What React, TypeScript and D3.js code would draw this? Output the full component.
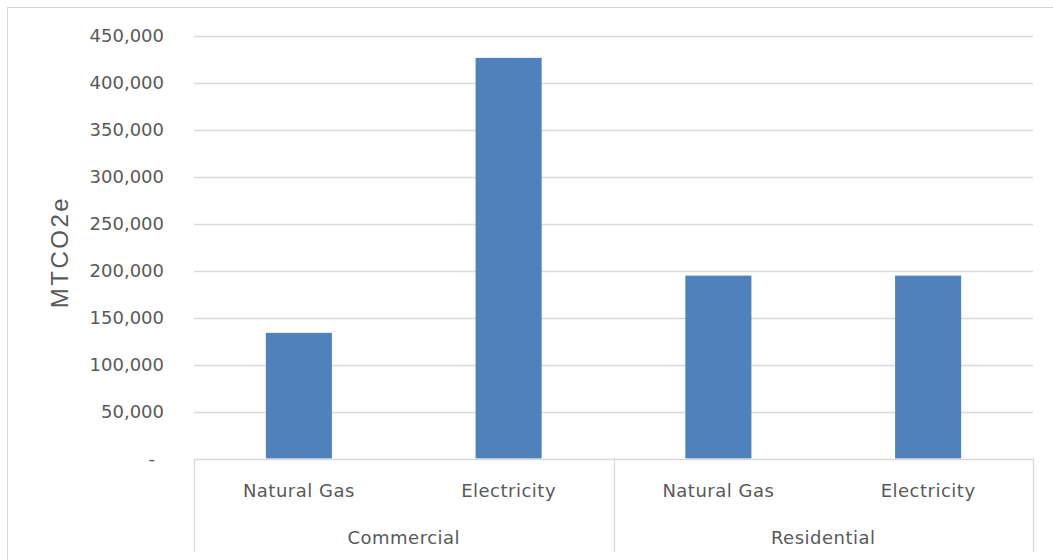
import React, { useEffect, useRef } from "react";
import * as d3 from "d3";

// chart data
const groups = ["Commercial", "Residential"];
const sources = ["Natural Gas", "Electricity"];
const values = [133800, 426700, 194800, 194800];
const yTicks = [0, 50000, 100000, 150000, 200000, 250000, 300000, 350000, 400000, 450000];
const yTitle = "MTCO2e";

const W = 1053;
const H = 560;

export default function App() {
  const ref = useRef<SVGSVGElement>(null);

  useEffect(() => {
    const svg = d3.select(ref.current);
    svg.selectAll("*").remove();

    const left = 194, right = 1033, top = 36, bottom = 458.5;
    const font = "'DejaVu Sans', sans-serif";
    const textColor = "#595959";
    const gridColor = "#d9d9d9";

    // outer frame
    svg.append("rect")
      .attr("x", 7.5).attr("y", 7.5)
      .attr("width", W + 10).attr("height", H + 10)
      .attr("fill", "white").attr("stroke", gridColor);

    const y = d3.scaleLinear().domain([0, 450000]).range([bottom, top]);

    const cats: { group: string; source: string; value: number }[] = [];
    groups.forEach((g, gi) => sources.forEach((s, si) => {
      cats.push({ group: g, source: s, value: values[gi * sources.length + si] });
    }));
    const x = d3.scaleBand<number>()
      .domain(cats.map((_, i) => i))
      .range([left, right])
      .paddingInner(0.685)
      .paddingOuter(0.685 / 2);

    // gridlines
    svg.append("g").selectAll("line")
      .data(yTicks.filter(t => t > 0))
      .enter().append("line")
      .attr("x1", left).attr("x2", right)
      .attr("y1", d => Math.round(y(d)) + 0.5).attr("y2", d => Math.round(y(d)) + 0.5)
      .attr("stroke", gridColor).attr("stroke-width", 1.3);

    // tick labels
    const fmt = d3.format(",");
    svg.append("g").selectAll("text")
      .data(yTicks)
      .enter().append("text")
      .attr("x", d => d === 0 ? 155 : 164)
      .attr("y", d => y(d))
      .attr("dy", "0.36em")
      .attr("text-anchor", "end")
      .attr("font-family", font).attr("font-size", 18)
      .attr("fill", textColor)
      .text(d => d === 0 ? "-" : fmt(d));

    // bars
    svg.append("g").selectAll("rect")
      .data(cats)
      .enter().append("rect")
      .attr("x", (_, i) => x(i)!)
      .attr("width", x.bandwidth())
      .attr("y", d => y(d.value))
      .attr("height", d => bottom - y(d.value))
      .attr("fill", "#4f81bd");

    // category axis
    const ax = svg.append("g");
    ax.append("line")
      .attr("x1", left).attr("x2", right)
      .attr("y1", Math.round(bottom) + 0.5).attr("y2", Math.round(bottom) + 0.5)
      .attr("stroke", gridColor).attr("stroke-width", 1.3);
    const step = (right - left) / cats.length;
    const divs = d3.range(groups.length + 1).map(i => left + i * step * sources.length);
    ax.selectAll("line.div")
      .data(divs)
      .enter().append("line")
      .attr("class", "div")
      .attr("x1", d => Math.round(d) + 0.5).attr("x2", d => Math.round(d) + 0.5)
      .attr("y1", bottom).attr("y2", 552)
      .attr("stroke", gridColor).attr("stroke-width", 1.3);

    ax.selectAll("text.inner")
      .data(cats)
      .enter().append("text")
      .attr("class", "inner")
      .attr("x", (_, i) => x(i)! + x.bandwidth() / 2)
      .attr("y", 497)
      .attr("text-anchor", "middle")
      .attr("font-family", font).attr("font-size", 18)
      .attr("letter-spacing", 0.5)
      .attr("fill", textColor)
      .text(d => d.source);

    ax.selectAll("text.outer")
      .data(groups)
      .enter().append("text")
      .attr("class", "outer")
      .attr("x", (_, i) => (divs[i] + divs[i + 1]) / 2)
      .attr("y", 544)
      .attr("text-anchor", "middle")
      .attr("font-family", font).attr("font-size", 18)
      .attr("letter-spacing", 0.5)
      .attr("fill", textColor)
      .text(d => d);

    // axis title
    svg.append("text")
      .attr("transform", `translate(68,252) rotate(-90)`)
      .attr("text-anchor", "middle")
      .attr("font-family", "'Liberation Sans', Arial, sans-serif").attr("font-size", 24)
      .attr("letter-spacing", 2.5)
      .attr("fill", textColor)
      .text(yTitle);
  }, []);

  return (
    <svg ref={ref} width={W} height={H}
      style={{ position: "absolute", left: 0, top: 0, display: "block" }} />
  );
}
